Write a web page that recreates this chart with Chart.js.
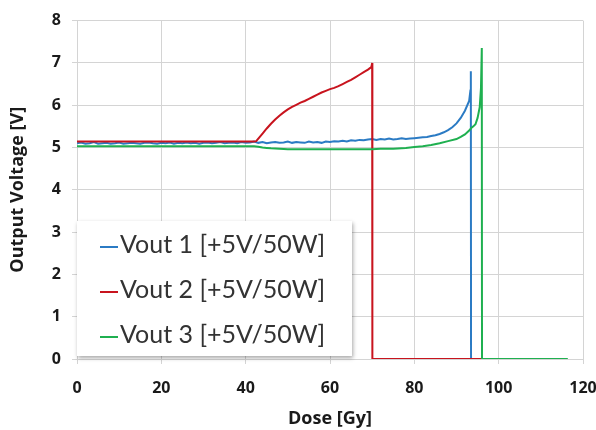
<!DOCTYPE html>
<html>
<head>
<meta charset="utf-8">
<script src="https://cdn.jsdelivr.net/npm/chart.js@4/dist/chart.umd.min.js"></script>
<style>
  body { margin: 0; background: #fff; }
  #wrap { position: relative; width: 596px; height: 430px; }
  #legend {
    position: absolute; left: 77px; top: 221px; width: 275px; height: 135px;
    background: #fff; box-shadow: 1px 2px 4px rgba(0,0,0,0.35);
    font-family: Lato, sans-serif; font-size: 25px; color: #333;
  }
  #legend div { position: absolute; left: 23px; height: 32px; line-height: 32px; white-space: nowrap; }
  #legend span { display: inline-block; width: 18px; height: 2px; vertical-align: middle; margin-right: 2px; }
</style>
</head>
<body>
<div id="wrap">
  <canvas id="c" width="596" height="430"></canvas>
  <div id="legend"></div>
</div>
<script>
// Vout 1 (blue)
const dose1 = [0,1,2,3,4,5,6,7,8,9,10,11,12,13,14,15,16,17,18,19,20,21,22,23,24,25,26,27,28,29,30,
  31,32,33,34,35,36,37,38,39,40,41,42,43,44,45,46,47,48,49,50,51,52,53,54,55,56,57,58,59,60,
  61,62,63,64,65,66,67,68,69,70,71,72,73,74,75,76,77,78,79,80,81,82,83,84,85,86,87,88,89,90,
  91,92,93,93.3,93.4,93.45,96];
const volt1 = [5.10,5.12,5.09,5.10,5.13,5.09,5.10,5.11,5.09,5.10,5.12,5.09,5.10,5.11,5.10,5.09,5.11,5.12,5.10,5.09,5.11,
  5.10,5.12,5.09,5.11,5.10,5.12,5.10,5.11,5.09,5.11,5.12,5.10,5.11,5.13,5.10,5.11,5.12,5.10,5.13,5.11,
  5.12,5.14,5.11,5.13,5.10,5.12,5.13,5.11,5.12,5.14,5.11,5.13,5.12,5.11,5.14,5.12,5.13,5.11,5.14,5.13,
  5.15,5.14,5.16,5.14,5.17,5.16,5.18,5.17,5.19,5.20,5.18,5.20,5.19,5.21,5.19,5.20,5.22,5.20,5.21,5.22,
  5.23,5.24,5.25,5.27,5.29,5.32,5.36,5.41,5.48,5.57,5.70,5.87,6.10,6.35,6.80,0,0];

// Vout 2 (red)
const dose2 = [0,42,42.5,43,44,45,46,47,48,49,50,51,52,53,54,55,56,57,58,59,60,61,62,63,64,65,66,67,68,69,69.8,70,70.05,96];
const volt2 = [5.14,5.14,5.15,5.21,5.33,5.45,5.56,5.66,5.75,5.83,5.90,5.96,6.01,6.06,6.10,6.15,6.20,6.25,6.30,6.34,6.38,
  6.41,6.45,6.50,6.55,6.60,6.66,6.72,6.78,6.84,6.90,7.00,0,0];

// Vout 3 (green)
const dose3 = [0,42,43,44,45,46,48,50,55,60,65,70,72,75,78,80,82,84,86,88,90,91,92,93,93.5,94,94.5,95,95.5,95.8,96,96.05,116.4];
const volt3 = [5.03,5.03,5.02,5.00,4.99,4.98,4.97,4.96,4.96,4.96,4.96,4.96,4.97,4.97,4.99,5.01,5.03,5.06,5.10,5.15,5.20,
  5.25,5.31,5.40,5.46,5.50,5.55,5.70,5.95,6.40,7.35,0,0];

const seriesNames = ['Vout 1 [+5V/50W]', 'Vout 2 [+5V/50W]', 'Vout 3 [+5V/50W]'];
const colors = ['#2b7bc4', '#c8141e', '#1fb050'];

const pts = (xs, ys) => xs.map((x, i) => ({ x: x, y: ys[i] }));
const mk = (i, xs, ys) => ({
  label: seriesNames[i], data: pts(xs, ys), borderColor: colors[i], backgroundColor: colors[i],
  showLine: true, pointRadius: 0, borderWidth: 2, tension: 0
});

const tickFont = { family: 'Open Sans', size: 16, weight: 'bold' };
const titleFont = { family: 'Open Sans', size: 18, weight: 'bold' };

new Chart(document.getElementById('c'), {
  type: 'scatter',
  data: {
    // first dataset is drawn on top
    datasets: [mk(2, dose3, volt3), mk(1, dose2, volt2), mk(0, dose1, volt1)]
  },
  options: {
    responsive: false,
    animation: false,
    layout: { padding: { left: 0, right: 13, top: 14, bottom: 0 } },
    plugins: { legend: { display: false }, tooltip: { enabled: false } },
    scales: {
      x: {
        type: 'linear', min: 0, max: 120,
        ticks: { stepSize: 20, color: '#1a1a1a', font: tickFont, padding: 15, maxRotation: 0 },
        grid: { color: '#d4d4d4', tickLength: 5 },
        border: { color: '#d4d4d4' },
        title: { display: true, text: 'Dose [Gy]', color: '#1a1a1a', font: titleFont, padding: { top: 0, bottom: 0 } },
        afterFit: (s) => { s.height = 71; s.paddingLeft = 0; s.paddingRight = 0; }
      },
      y: {
        min: 0, max: 8,
        ticks: { stepSize: 1, color: '#1a1a1a', font: tickFont, padding: 11 },
        grid: { color: '#d4d4d4', tickLength: 5 },
        border: { color: '#d4d4d4' },
        title: { display: true, text: 'Output Voltage [V]', color: '#1a1a1a', font: titleFont, padding: { top: 7 } },
        afterFit: (s) => { s.width = 77; }
      }
    }
  }
});

const leg = document.getElementById('legend');
const rowTops = [6, 51, 96];
seriesNames.forEach((n, i) => {
  const d = document.createElement('div');
  d.style.top = rowTops[i] + 'px';
  d.innerHTML = '<span style="background:' + colors[i] + '"></span>' + n;
  leg.appendChild(d);
});
</script>
</body>
</html>
